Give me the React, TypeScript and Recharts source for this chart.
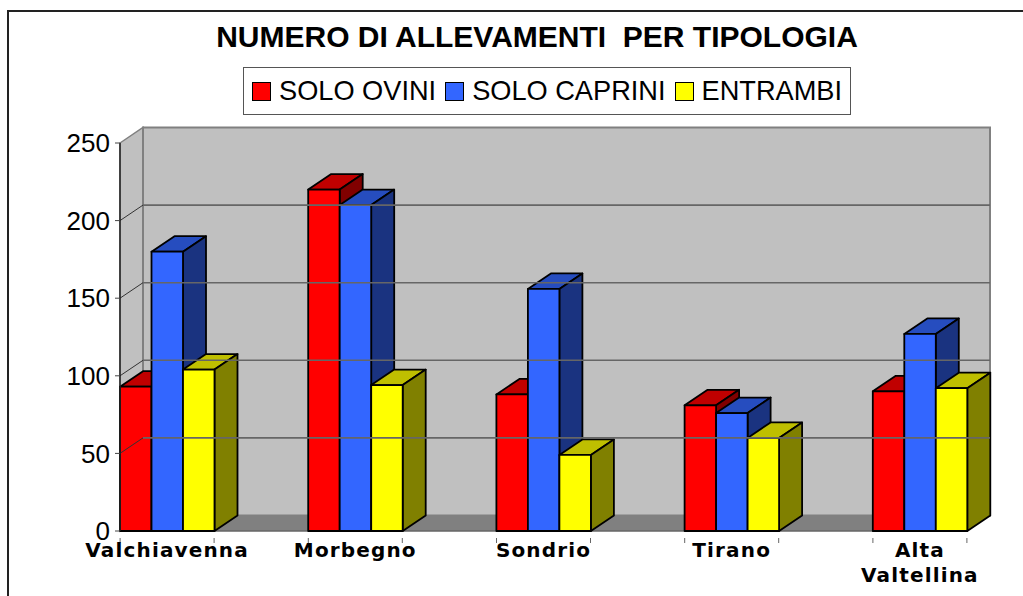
import React from 'react';
import { BarChart, Bar, XAxis, YAxis, Legend, ReferenceArea, ReferenceLine } from 'recharts';

const categories = ['Valchiavenna', 'Morbegno', 'Sondrio', 'Tirano', 'Alta Valtellina'];
const soloOvini = [93, 220, 88, 81, 90];
const soloCaprini = [180, 210, 156, 76, 127];
const entrambi = [104, 94, 49, 60, 92];
const yTicks = [0, 50, 100, 150, 200, 250];
const gridValues = [50, 100, 150, 200];

const data = categories.map((name, i) => ({
  name,
  ovini: soloOvini[i],
  caprini: soloCaprini[i],
  entrambi: entrambi[i],
}));

// offset of the back wall from the front plane
const DX = 23;
const DY = 15.5;
// negative axis padding, so the first and last groups sit on the plot edges
const PAD = 47;
const FONT = '"Liberation Sans", Arial, sans-serif';

const Bar3D = (props: any) => {
  const { x, y, width, height, fill, topFill, sideFill } = props;
  const r = x + width;
  const b = y + height;
  return (
    <g stroke="#000" strokeWidth={1.8} strokeLinejoin="round">
      <polygon points={`${x},${y} ${x + DX},${y - DY} ${r + DX},${y - DY} ${r},${y}`} fill={topFill} />
      <polygon points={`${r},${y} ${r + DX},${y - DY} ${r + DX},${b - DY} ${r},${b}`} fill={sideFill} />
      <rect x={x} y={y} width={width} height={height} fill={fill} />
    </g>
  );
};

// the reference area gets the padded x range, so PAD is taken back off here
const Walls = (props: any) => {
  const { x, y, width, height } = props;
  const l = x + PAD;
  const r = x + width - PAD;
  const b = y + height;
  return (
    <g>
      <polygon points={`${l},${b} ${l + DX},${b - DY} ${r + DX},${b - DY} ${r},${b}`} fill="#808080" />
      <polygon points={`${l},${y} ${l + DX},${y - DY} ${l + DX},${b - DY} ${l},${b}`} fill="#c0c0c0" stroke="#808080" strokeWidth={1.5} />
      <rect x={l + DX} y={y - DY} width={r - l} height={height} fill="#c0c0c0" stroke="#808080" strokeWidth={2} />
      <line x1={l} y1={b} x2={r} y2={b} stroke="#666" strokeWidth={1.5} />
    </g>
  );
};

const WallLine = (props: any) => {
  const { x1, y1, x2, y2 } = props;
  return (
    <g>
      <line x1={x1} y1={y1} x2={x1 + DX} y2={y1 - DY} stroke="#333" strokeWidth={1} />
      <line x1={x1 + DX} y1={y1 - DY} x2={x2 + DX} y2={y2 - DY} stroke="#666" strokeWidth={1.6} />
    </g>
  );
};

const CategoryTick = (props: any) => {
  const { x, y, payload } = props;
  const words = String(payload.value).split(' ');
  return (
    <g>
      <line x1={x - 47} y1={y - 1} x2={x - 47} y2={y + 4} stroke="#666" />
      <line x1={x + 47} y1={y - 1} x2={x + 47} y2={y + 4} stroke="#666" />
      <text
        x={x}
        y={y + 18}
        textAnchor="middle"
        fontFamily='"DejaVu Sans", sans-serif'
        fontWeight="bold"
        fontSize={20}
        letterSpacing={1.15}
        fill="#000"
      >
        {words.map((w, i) => (
          <tspan key={w} x={x} dy={i === 0 ? 0 : 25}>
            {w}
          </tspan>
        ))}
      </text>
    </g>
  );
};

const LegendBox = ({ payload }: any) => (
  <div
    style={{
      display: 'flex',
      alignItems: 'center',
      boxSizing: 'border-box',
      width: 608,
      height: 48,
      paddingLeft: 8,
      border: '1.5px solid #555',
      background: '#fff',
      fontFamily: FONT,
      fontSize: 27.2,
      color: '#000',
      whiteSpace: 'nowrap',
    }}
  >
    {(payload || []).map((item: any) => (
      <span key={item.value} style={{ display: 'flex', alignItems: 'center', marginRight: 9 }}>
        <span
          style={{
            display: 'inline-block',
            boxSizing: 'border-box',
            width: 19,
            height: 19,
            marginRight: 8,
            background: item.color,
            border: '1.5px solid #000',
          }}
        />
        {item.value}
      </span>
    ))}
  </div>
);

export default function App() {
  return (
    <div style={{ position: 'absolute', left: 0, top: 0, width: 1023, height: 596, overflow: 'hidden', background: '#fff' }}>
      <div style={{ position: 'absolute', left: 7, top: 10, width: 1100, height: 700, border: '2px solid #222' }} />
      <div
        style={{
          position: 'absolute',
          left: 0,
          top: 18,
          width: 1074,
          textAlign: 'center',
          fontFamily: FONT,
          fontWeight: 'bold',
          fontSize: 30,
          lineHeight: '38px',
          whiteSpace: 'pre',
          color: '#000',
        }}
      >
        NUMERO DI ALLEVAMENTI  PER TIPOLOGIA
      </div>
      <BarChart
        width={1023}
        height={596}
        data={data}
        margin={{ top: 143, right: 56, bottom: 0, left: 60 }}
        barSize={31.5}
        barGap={0}
        style={{ position: 'absolute', left: 0, top: 0 }}
      >
        <ReferenceArea y1={0} y2={250} shape={<Walls />} />
        {gridValues.map((v) => (
          <ReferenceLine key={v} y={v} shape={<WallLine />} />
        ))}
        <XAxis
          dataKey="name"
          height={65}
          padding={{ left: -PAD, right: -PAD }}
          interval={0}
          tickLine={false}
          axisLine={false}
          tick={<CategoryTick />}
        />
        <YAxis
          width={60}
          domain={[0, 250]}
          ticks={yTicks}
          tickSize={5}
          tickMargin={5}
          axisLine={{ stroke: '#222', strokeWidth: 1.5 }}
          tickLine={{ stroke: '#444' }}
          tick={{ fontFamily: FONT, fontSize: 26, fill: '#000' }}
        />
        <Legend
          layout="horizontal"
          verticalAlign="middle"
          itemSorter={null}
          content={<LegendBox />}
          wrapperStyle={{ left: 243, top: 67, width: 608, height: 48 }}
        />
        <Bar
          dataKey="ovini"
          name="SOLO OVINI"
          fill="#ff0000"
          isAnimationActive={false}
          shape={(p: any) => <Bar3D {...p} topFill="#c00000" sideFill="#800000" />}
        />
        <Bar
          dataKey="caprini"
          name="SOLO CAPRINI"
          fill="#3366ff"
          isAnimationActive={false}
          shape={(p: any) => <Bar3D {...p} topFill="#264dbf" sideFill="#1a3380" />}
        />
        <Bar
          dataKey="entrambi"
          name="ENTRAMBI"
          fill="#ffff00"
          isAnimationActive={false}
          shape={(p: any) => <Bar3D {...p} topFill="#bfbf00" sideFill="#808000" />}
        />
      </BarChart>
    </div>
  );
}
